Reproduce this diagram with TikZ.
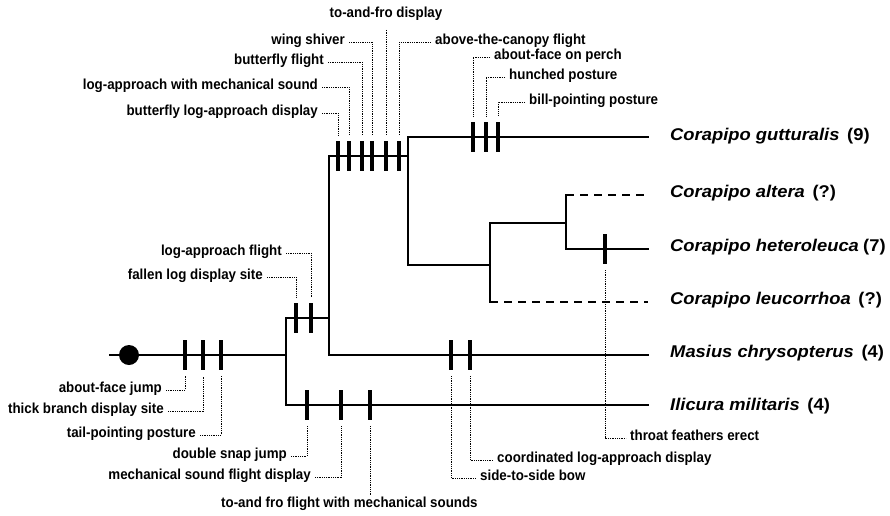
\documentclass[tikz,border=0pt]{standalone}
\usepackage{fontspec}
\setmainfont{Liberation Sans}
\newfontfamily\spfont[FakeStretch=1.08]{Liberation Sans}
\newfontfamily\lbfont[FakeStretch=0.92]{Liberation Sans}
\begin{document}
\begin{tikzpicture}[x=1pt,y=-1pt,
  br/.style={line width=2.4pt, line cap=rect},
  dbr/.style={line width=2.4pt, dash pattern=on 8pt off 6pt},
  tk/.style={line width=3.2pt},
  leader/.style={line width=1pt, dash pattern=on 1pt off 0.8pt},
  lbf/.style={font=\fontsize{14.5}{15}\selectfont\lbfont\bfseries},
  lblL/.style={lbf, anchor=mid east, inner xsep=4pt, inner ysep=0pt},
  lblR/.style={lbf, anchor=mid west, inner xsep=4pt, inner ysep=0pt},
  lblC/.style={lbf, anchor=mid, inner sep=0pt},
  sp/.style={anchor=mid west, inner sep=0pt, font=\fontsize{17}{18}\selectfont\spfont\bfseries}
]
\useasboundingbox (0,0) rectangle (890,515);

% branch points
\coordinate (r0) at (110,355);
\coordinate (rc) at (129,355);
\coordinate (n1) at (286,355);
\coordinate (n1t) at (286,318);
\coordinate (n1b) at (286,405);
\coordinate (n2) at (329,318);
\coordinate (n2t) at (329,156);
\coordinate (n2b) at (329,355);
\coordinate (n3) at (408,156);
\coordinate (n3t) at (408,137);
\coordinate (n3b) at (408,265);
\coordinate (n4) at (490,265);
\coordinate (n4t) at (490,223);
\coordinate (n4b) at (490,302);
\coordinate (n5) at (566,223);
\coordinate (n5t) at (566,195);
\coordinate (n5b) at (566,249);
\coordinate (eG) at (648,137);
\coordinate (eA) at (648,195);
\coordinate (eH) at (648,249);
\coordinate (eL) at (648,302);
\coordinate (eM) at (648,355);
\coordinate (eI) at (648,405);

% tree
\draw[br] (r0) -- (n1);
\fill (rc) circle (10);
\draw[br] (n1t) -- (n1b);
\draw[br] (n1t) -- (n2);
\draw[br] (n1b) -- (eI);
\draw[br] (n2t) -- (n2b) -- (eM);
\draw[br] (n2t) -- (n3);
\draw[br] (n3t) -- (n3b) -- (n4);
\draw[br] (n3t) -- (eG);
\draw[br] (n4t) -- (n4b);
\draw[br] (n4t) -- (n5);
\draw[dbr] (n4b) -- (eL);
\draw[br] (n5t) -- (n5b) -- (eH);
\draw[dbr] (n5t) -- (eA);

% ticks
\foreach \n/\x/\y in {a/185/355,b/203/355,c/221/355,
  d/296/318,e/311/318,
  f/338/156,g/349/156,h/362/156,i/372/156,j/386/156,k/399/156,
  l/473/137,m/486/137,n/498/137,
  o/605/249,
  p/451/355,q/470/355,
  s/307/405,t/341/405,u/370/405}{
  \coordinate (t\n) at (\x,\y);
  \draw[tk] (\x,\y-15) -- (\x,\y+15);
  \coordinate (t\n u) at (\x,\y-21);
  \coordinate (t\n d) at (\x,\y+21);
}

% species
\node[sp] (sG) at (670,138) {\itshape Corapipo gutturalis\hspace{0.45em}\upshape(9)};
\node[sp] (sA) at (670,195) {\itshape Corapipo altera\hspace{0.45em}\upshape(?)};
\node[sp] (sH) at (670,249) {\itshape Corapipo heteroleuca\hspace{0.25em}\upshape(7)};
\node[sp] (sL) at (670,302) {\itshape Corapipo leucorrhoa\hspace{0.45em}\upshape(?)};
\node[sp] (sM) at (670,355) {\itshape Masius chrysopterus\hspace{0.45em}\upshape(4)};
\node[sp] (sI) at (670,408) {\itshape Ilicura militaris\hspace{0.45em}\upshape(4)};

% top labels
\node[lblL] (L1) at (322,113) {butterfly log-approach display};
\node[lblL] (L2) at (322,87) {log-approach with mechanical sound};
\node[lblL] (L3) at (328,62) {butterfly flight};
\node[lblL] (L4) at (349,42) {wing shiver};
\node[lblC] (L5) at (386,15) {to-and-fro display};
\node[lblR] (L6) at (431,42) {above-the-canopy flight};
\node[lblR] (L7) at (490,57) {about-face on perch};
\node[lblR] (L8) at (505,77) {hunched posture};
\node[lblR] (L9) at (525,102) {bill-pointing posture};
\draw[leader] (L1.mid east) -| (tfu);
\draw[leader] (L2.mid east) -| (tgu);
\draw[leader] (L3.mid east) -| (thu);
\draw[leader] (L4.mid east) -| (tiu);
\draw[leader] ([yshift=-9pt]L5.south) -- (tju);
\draw[leader] (L6.mid west) -| (tku);
\draw[leader] (L7.mid west) -| (tlu);
\draw[leader] (L8.mid west) -| (tmu);
\draw[leader] (L9.mid west) -| (tnu);

% middle labels
\node[lblL] (M1) at (286,253) {log-approach flight};
\node[lblL] (M2) at (267,277) {fallen log display site};
\draw[leader] (M1.mid east) -| (teu);
\draw[leader] (M2.mid east) -| (tdu);

% bottom left labels
\node[lblL] (B1) at (166,390) {about-face jump};
\node[lblL] (B2) at (168,411) {thick branch display site};
\node[lblL] (B3) at (200,435) {tail-pointing posture};
\node[lblL] (B4) at (291,456) {double snap jump};
\node[lblL] (B5) at (315,477) {mechanical sound flight display};
\node[lblC, anchor=mid west] (B6) at (221,505) {to-and fro flight with mechanical sounds};
\draw[leader] (B1.mid east) -| (tad);
\draw[leader] (B2.mid east) -| (tbd);
\draw[leader] (B3.mid east) -| (tcd);
\draw[leader] (B4.mid east) -| (tsd);
\draw[leader] (B5.mid east) -| (ttd);
\coordinate (B6t) at (370,495);
\draw[leader] (tud) -- (B6t);

% bottom right labels
\node[lblR] (R1) at (476,478) {side-to-side bow};
\node[lblR] (R2) at (493,460) {coordinated log-approach display};
\node[lblR] (R3) at (626,438) {throat feathers erect};
\draw[leader] (tpd) |- (R1.mid west);
\draw[leader] (tqd) |- (R2.mid west);
\draw[leader] (tod) |- (R3.mid west);
\end{tikzpicture}
\end{document}
